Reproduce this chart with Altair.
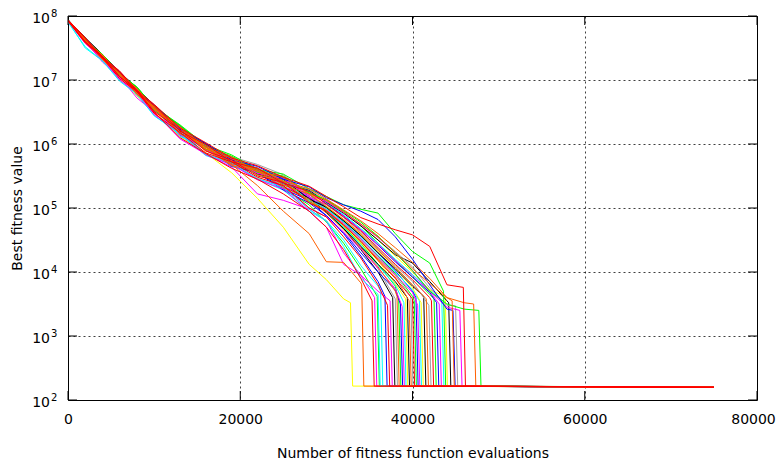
import altair as alt
import pandas as pd

# evaluation counts at which each run's best fitness (log10) was read
EVALS = [0, 2000, 4000, 6000, 8000, 10000, 13000, 16000, 19000, 22000, 25000,
         28000, 30000, 32000, 34000, 36000, 38000, 40000, 42000, 44000, 46000]

RUN_COLORS = ["yellow", "orange", "red", "green", "cyan", "blue", "red", "magenta", "black", "gray",
              "orange", "green", "blue", "magenta", "cyan", "yellow", "black", "orange", "gray", "red",
              "green", "blue", "magenta", "cyan", "yellow", "black", "orange", "gray", "red", "green",
              "blue", "magenta", "cyan", "yellow", "black", "orange", "gray", "magenta", "red", "green",
              "orange", "green", "blue", "magenta", "cyan"]

# evaluation count at which a run collapses to the optimum
RUN_DROP_AT = [32800, 34100, 35300, 35900, 36300, 36800, 37100, 37400, 37700, 38000,
               38200, 38400, 38600, 38800, 39000, 39200, 39400, 39600, 39800, 40000,
               40200, 40400, 40600, 40800, 41000, 41300, 41600, 41900, 42200, 42500,
               42800, 43100, 43400, 43800, 44200, 44600, 45000, 45500, 45900, 43600,
               47100, 47700, 44700, 35600, 36000]

# log10 best fitness just before the collapse
RUN_PRE_DROP = [3.52, 3.80, 3.55, 3.62, 3.70, 3.62, 3.48, 3.55, 3.60, 3.58,
                3.62, 3.55, 3.50, 3.46, 3.52, 3.58, 3.60, 3.55, 3.62, 3.58,
                3.55, 3.60, 3.48, 3.55, 3.52, 3.62, 3.58, 3.48, 3.55, 3.58,
                3.52, 3.50, 3.56, 3.62, 3.52, 3.55, 3.47, 3.40, 3.76, 3.70,
                3.50, 3.40, 3.40, 3.60, 3.65]

# log10 best fitness of every run at the EVALS points
RUN_LOG_BEST = [
    [7.92, 7.58, 7.30, 7.06, 6.75, 6.52, 6.12, 5.86, 5.55, 5.15, 4.70, 4.12, 3.88, 3.58],
    [7.94, 7.65, 7.33, 7.12, 6.80, 6.58, 6.25, 5.90, 5.68, 5.35, 4.95, 4.60, 4.16, 4.15, 3.83],
    [7.93, 7.60, 7.37, 7.05, 6.84, 6.50, 6.10, 5.85, 5.62, 5.45, 5.22, 4.95, 4.70, 4.35, 3.90],
    [7.92, 7.66, 7.34, 7.13, 6.80, 6.60, 6.28, 5.98, 5.70, 5.60, 5.30, 5.05, 4.78, 4.45, 4.05],
    [7.90, 7.52, 7.30, 7.00, 6.78, 6.45, 6.15, 5.82, 5.68, 5.45, 5.28, 4.95, 4.80, 4.50, 4.10, 3.78],
    [7.93, 7.63, 7.32, 7.10, 6.86, 6.55, 6.24, 5.96, 5.66, 5.56, 5.30, 5.12, 4.88, 4.60, 4.25, 3.85],
    [7.92, 7.58, 7.35, 7.02, 6.82, 6.48, 6.18, 5.86, 5.72, 5.48, 5.35, 5.00, 4.86, 4.55, 4.22, 3.80],
    [7.91, 7.61, 7.28, 7.05, 6.72, 6.50, 6.08, 5.84, 5.64, 5.22, 5.12, 4.98, 4.80, 4.30, 3.95, 3.70],
    [7.94, 7.66, 7.40, 7.12, 6.88, 6.60, 6.26, 6.00, 5.76, 5.62, 5.42, 5.18, 4.95, 4.68, 4.35, 4.00],
    [7.93, 7.60, 7.37, 7.07, 6.85, 6.54, 6.25, 5.92, 5.80, 5.68, 5.52, 5.22, 5.00, 4.72, 4.40, 4.05],
    [7.92, 7.63, 7.32, 7.08, 6.78, 6.56, 6.16, 5.95, 5.66, 5.58, 5.32, 5.14, 4.92, 4.66, 4.38, 4.08, 3.70],
    [7.93, 7.61, 7.38, 7.06, 6.85, 6.52, 6.22, 5.90, 5.76, 5.52, 5.42, 5.10, 4.95, 4.70, 4.45, 4.12, 3.78],
    [7.92, 7.64, 7.33, 7.09, 6.79, 6.56, 6.14, 5.94, 5.65, 5.55, 5.28, 5.08, 4.88, 4.62, 4.30, 4.00, 3.72],
    [7.93, 7.59, 7.35, 7.03, 6.80, 6.47, 6.17, 5.84, 5.70, 5.45, 5.34, 5.00, 4.86, 4.62, 4.36, 4.06, 3.74],
    [7.91, 7.62, 7.30, 7.08, 6.76, 6.55, 6.12, 5.93, 5.66, 5.58, 5.33, 5.16, 4.94, 4.70, 4.42, 4.10, 3.80],
    [7.93, 7.60, 7.37, 7.06, 6.84, 6.51, 6.24, 5.89, 5.77, 5.53, 5.44, 5.12, 4.98, 4.72, 4.45, 4.18, 3.82],
    [7.92, 7.63, 7.33, 7.10, 6.80, 6.58, 6.18, 5.97, 5.68, 5.59, 5.33, 5.16, 4.93, 4.68, 4.40, 4.12, 3.85],
    [7.94, 7.61, 7.39, 7.08, 6.86, 6.54, 6.26, 5.92, 5.78, 5.52, 5.42, 5.10, 4.96, 4.74, 4.48, 4.20, 3.92],
    [7.93, 7.64, 7.34, 7.11, 6.80, 6.58, 6.17, 5.96, 5.68, 5.59, 5.34, 5.18, 4.97, 4.75, 4.50, 4.22, 3.95],
    [7.92, 7.59, 7.36, 7.05, 6.83, 6.51, 6.22, 5.89, 5.75, 5.50, 5.40, 5.08, 4.95, 4.73, 4.48, 4.18, 3.90],
    [7.93, 7.64, 7.33, 7.10, 6.79, 6.58, 6.18, 5.97, 5.70, 5.61, 5.36, 5.21, 5.00, 4.78, 4.52, 4.25, 3.98, 3.62],
    [7.94, 7.62, 7.39, 7.08, 6.87, 6.55, 6.27, 5.94, 5.79, 5.55, 5.46, 5.15, 5.02, 4.80, 4.56, 4.30, 4.02, 3.70],
    [7.92, 7.62, 7.31, 7.08, 6.77, 6.55, 6.14, 5.94, 5.67, 5.58, 5.33, 5.18, 4.97, 4.76, 4.52, 4.24, 3.96, 3.68],
    [7.93, 7.60, 7.37, 7.06, 6.84, 6.52, 6.22, 5.90, 5.75, 5.52, 5.43, 5.12, 4.99, 4.78, 4.54, 4.27, 4.00, 3.72],
    [7.92, 7.63, 7.33, 7.11, 6.80, 6.59, 6.19, 5.98, 5.71, 5.62, 5.38, 5.24, 5.03, 4.82, 4.58, 4.32, 4.05, 3.75],
    [7.94, 7.61, 7.38, 7.07, 6.86, 6.53, 6.25, 5.92, 5.77, 5.53, 5.45, 5.14, 5.01, 4.80, 4.57, 4.30, 4.05, 3.78],
    [7.93, 7.64, 7.32, 7.09, 6.78, 6.57, 6.17, 5.96, 5.69, 5.60, 5.36, 5.22, 5.02, 4.82, 4.60, 4.34, 4.08, 3.80],
    [7.92, 7.60, 7.38, 7.08, 6.87, 6.55, 6.26, 5.93, 5.78, 5.55, 5.46, 5.17, 5.05, 4.85, 4.62, 4.36, 4.10, 3.85],
    [7.93, 7.65, 7.34, 7.12, 6.81, 6.60, 6.20, 5.99, 5.72, 5.62, 5.39, 5.26, 5.06, 4.86, 4.64, 4.38, 4.12, 3.88, 3.60],
    [7.94, 7.62, 7.40, 7.10, 6.89, 6.57, 6.29, 5.96, 5.81, 5.58, 5.50, 5.23, 5.12, 4.95, 4.72, 4.45, 4.18, 3.92, 3.65],
    [7.93, 7.64, 7.33, 7.10, 6.79, 6.58, 6.18, 5.97, 5.70, 5.60, 5.38, 5.26, 5.07, 4.88, 4.66, 4.42, 4.16, 3.92, 3.68],
    [7.92, 7.59, 7.36, 7.06, 6.84, 6.52, 6.24, 5.91, 5.76, 5.54, 5.46, 5.17, 5.06, 4.87, 4.66, 4.43, 4.18, 3.95, 3.70],
    [7.93, 7.65, 7.34, 7.11, 6.80, 6.59, 6.19, 5.98, 5.71, 5.61, 5.39, 5.27, 5.08, 4.90, 4.68, 4.45, 4.20, 3.96, 3.72],
    [7.92, 7.60, 7.38, 7.07, 6.86, 6.53, 6.26, 5.93, 5.78, 5.56, 5.48, 5.21, 5.10, 4.92, 4.72, 4.50, 4.25, 4.00, 3.72],
    [7.93, 7.64, 7.34, 7.12, 6.81, 6.60, 6.20, 5.99, 5.72, 5.62, 5.40, 5.28, 5.09, 4.92, 4.72, 4.50, 4.27, 4.14, 3.85, 3.55],
    [7.94, 7.61, 7.39, 7.09, 6.87, 6.55, 6.27, 5.95, 5.80, 5.57, 5.49, 5.22, 5.12, 4.94, 4.75, 4.55, 4.30, 4.05, 3.82, 3.60],
    [7.93, 7.64, 7.33, 7.11, 6.80, 6.59, 6.19, 5.98, 5.72, 5.62, 5.40, 5.29, 5.11, 4.94, 4.75, 4.54, 4.32, 4.08, 3.75, 3.48],
    [7.92, 7.59, 7.37, 7.06, 6.85, 6.52, 6.24, 5.91, 5.77, 5.55, 5.47, 5.20, 5.10, 4.93, 4.74, 4.54, 4.30, 4.02, 3.70, 3.45],
    [7.94, 7.66, 7.36, 7.14, 6.84, 6.62, 6.25, 6.02, 5.78, 5.66, 5.48, 5.34, 5.18, 5.02, 4.85, 4.75, 4.66, 4.58, 4.40, 3.80],
    [7.94, 7.62, 7.40, 7.10, 6.89, 6.58, 6.30, 5.98, 5.83, 5.60, 5.53, 5.30, 5.18, 5.05, 4.98, 4.92, 4.60, 4.32, 4.14],
    [7.93, 7.64, 7.34, 7.12, 6.82, 6.60, 6.21, 5.99, 5.73, 5.62, 5.42, 5.30, 5.14, 4.97, 4.80, 4.60, 4.38, 4.15, 3.90, 3.60, 3.52],
    [7.92, 7.60, 7.37, 7.07, 6.86, 6.53, 6.25, 5.92, 5.78, 5.56, 5.48, 5.24, 5.13, 4.96, 4.78, 4.56, 4.30, 4.02, 3.70, 3.50, 3.42],
    [7.94, 7.65, 7.35, 7.13, 6.83, 6.61, 6.23, 6.01, 5.75, 5.65, 5.45, 5.33, 5.16, 5.05, 4.95, 4.82, 4.55, 4.20, 3.80, 3.42],
    [7.91, 7.57, 7.33, 7.00, 6.79, 6.45, 6.16, 5.83, 5.68, 5.44, 5.30, 4.95, 4.70, 4.12, 3.95],
    [7.92, 7.50, 7.30, 6.98, 6.78, 6.44, 6.16, 5.84, 5.70, 5.46, 5.32, 4.98, 4.80, 4.40, 3.90],
]

FINAL_BEST = 165      # best fitness reached after the collapse
END_EVALS = 75000     # budget at which every run stops
END_BEST = 158
DROP_SPAN = 250       # evaluations taken by the collapse

PALETTE = {"red": "#ff0000", "green": "#00ff00", "blue": "#0000ff", "magenta": "#ff00ff",
           "cyan": "#00ffff", "yellow": "#ffff00", "black": "#000000", "orange": "#ff6000",
           "gray": "#a0a0a0"}
DRAW_RANK = {"orange": 1, "red": 2}   # these colours end up on top of the shared bottom line

X_TICKS = [0, 20000, 40000, 60000, 80000]
Y_EXPONENTS = [2, 3, 4, 5, 6, 7, 8]
Y_TICKS = [10.0 ** e for e in Y_EXPONENTS]

rows = []
run_ids = []
for i, (col, drop, pre, logs) in enumerate(zip(RUN_COLORS, RUN_DROP_AT, RUN_PRE_DROP, RUN_LOG_BEST)):
    rid = f"run{i + 1:02d}"
    run_ids.append(rid)
    rank = DRAW_RANK.get(col, 0)
    k = 0
    for x, lv in zip(EVALS, logs):
        rows.append({"run": rid, "rank": rank, "evals": x, "best": 10 ** lv, "k": k})
        k += 1
    rows.append({"run": rid, "rank": rank, "evals": drop, "best": 10 ** pre, "k": k}); k += 1
    rows.append({"run": rid, "rank": rank, "evals": drop + DROP_SPAN, "best": FINAL_BEST, "k": k}); k += 1
    rows.append({"run": rid, "rank": rank, "evals": END_EVALS, "best": END_BEST, "k": k})
df = pd.DataFrame(rows).sort_values(["rank", "run", "k"], kind="stable").reset_index(drop=True)

W, H = 689, 384
FONT = "DejaVu Sans"
xscale = alt.Scale(domain=[0, 80000], nice=False, zero=False)
yscale = alt.Scale(type="log", domain=[100, 1e8], nice=False)

XAXIS = alt.Axis(
    values=X_TICKS, format="d", grid=True, gridDash=[2, 3], gridColor="#000000",
    gridOpacity=0.75, tickSize=0, domain=False, labelFont=FONT, labelFontSize=14,
    labelPadding=12, labelFlush=False, labelColor="#000000",
    labelOffset={"condition": {"test": "datum.value == 80000", "value": -4}, "value": 0},
    title="Number of fitness function evaluations", titleFont=FONT, titleFontSize=14,
    titleFontWeight="normal", titlePadding=20, titleColor="#000000")
YAXIS = alt.Axis(
    values=Y_TICKS, grid=True, gridDash=[2, 3], gridColor="#000000", gridOpacity=0.75,
    tickSize=0, domain=False, labels=False,
    title="Best fitness value", titleFont=FONT, titleFontSize=14,
    titleFontWeight="normal", titlePadding=43, titleColor="#000000")

lines = alt.Chart(df).mark_line(strokeWidth=1, clip=True).encode(
    x=alt.X("evals:Q", scale=xscale, axis=XAXIS),
    y=alt.Y("best:Q", scale=yscale, axis=YAXIS),
    color=alt.Color("run:N", scale=alt.Scale(domain=run_ids,
                                             range=[PALETTE[c] for c in RUN_COLORS]), legend=None),
    order="k:Q",
)

yt = pd.DataFrame({"best": Y_TICKS, "exp": [str(e) for e in Y_EXPONENTS]})
xt = pd.DataFrame({"evals": X_TICKS})
ytick_l = alt.Chart(yt).mark_rule(color="black", strokeWidth=1).encode(
    y=alt.Y("best:Q", scale=yscale, axis=YAXIS), x=alt.value(0), x2=alt.value(9))
ytick_r = alt.Chart(yt).mark_rule(color="black", strokeWidth=1).encode(
    y=alt.Y("best:Q", scale=yscale, axis=YAXIS), x=alt.value(W - 9), x2=alt.value(W))
xtick_b = alt.Chart(xt).mark_rule(color="black", strokeWidth=1).encode(
    x=alt.X("evals:Q", scale=xscale, axis=XAXIS), y=alt.value(H - 9), y2=alt.value(H))
xtick_t = alt.Chart(xt).mark_rule(color="black", strokeWidth=1).encode(
    x=alt.X("evals:Q", scale=xscale, axis=XAXIS), y=alt.value(0), y2=alt.value(9))

ylab_base = alt.Chart(yt).mark_text(
    align="right", baseline="middle", dy=3, fontSize=14, font=FONT, color="black").encode(
    y=alt.Y("best:Q", scale=yscale, axis=YAXIS), x=alt.value(-18), text=alt.value("10"))
ylab_exp = alt.Chart(yt).mark_text(
    align="left", baseline="middle", dy=-2, dx=1, fontSize=10, font=FONT, color="black").encode(
    y=alt.Y("best:Q", scale=yscale, axis=YAXIS), x=alt.value(-18), text="exp:N")

chart = alt.layer(lines, ytick_l, ytick_r, xtick_b, xtick_t, ylab_base, ylab_exp).properties(
    width=W, height=H,
    autosize=alt.AutoSizeParams(type="none"),
    padding={"left": 60, "top": 8, "right": 19, "bottom": 60},
    background="white",
).configure_view(stroke="black", strokeWidth=1)

chart.save("out.html", embed_options={"renderer": "svg", "actions": False})
